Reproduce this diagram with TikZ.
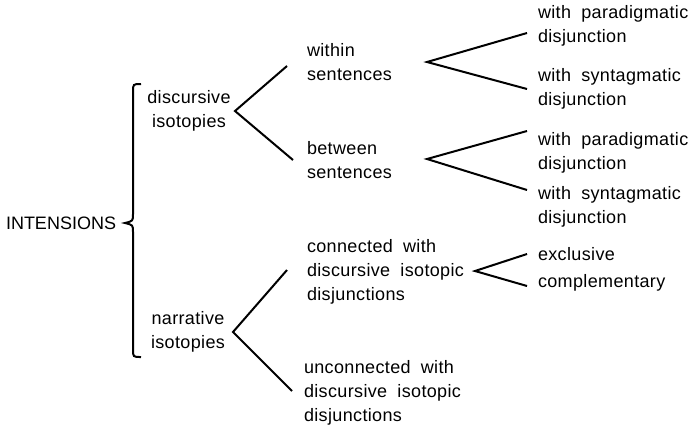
\documentclass[tikz,border=0pt]{standalone}
\usepackage{fontspec}
\setmainfont{Liberation Sans}[LetterSpace=2,WordSpace=1.9]
\usepackage{tikz}

\begin{document}
\begin{tikzpicture}[x=1pt,y=-1pt,line width=2pt,
  every node/.style={inner sep=0pt,font=\fontsize{18}{24}\selectfont},
  txt/.style={anchor=west,align=left}]
\useasboundingbox (0,0) rectangle (692,429);
\node (intensions) at (5,223) [anchor=west,font=\fontsize{18}{24}\selectfont\addfontfeatures{LetterSpace=0}] {INTENSIONS};
\draw (141,84) .. controls (133,84) .. (133,92) -- (133,214) .. controls (133,221) .. (125,223)
  .. controls (133,225) .. (133,232) -- (133,349) .. controls (133,357) .. (141,357);
\node (discursive) at (189,111) [align=center] {discursive\\isotopies};
\node (narrative) at (188,332) [align=center] {narrative\\isotopies};
\node (within) at (306,62) [txt] {within\\sentences};
\node (between) at (306,160) [txt] {between\\sentences};
\node (connected) at (306,272) [txt] {connected with\\discursive isotopic\\disjunctions};
\node (unconnected) at (303,393) [txt] {unconnected with\\discursive isotopic\\disjunctions};
\node (para1) at (537,26) [txt] {with paradigmatic\\disjunction};
\node (synt1) at (537,89) [txt] {with syntagmatic\\disjunction};
\node (para2) at (537,153) [txt] {with paradigmatic\\disjunction};
\node (synt2) at (537,207) [txt] {with syntagmatic\\disjunction};
\node (exclusive) at (537,254) [txt] {exclusive};
\node (complementary) at (537,283) [txt] {complementary};
\coordinate (discursiveV) at (235,111);
\coordinate (withinV) at (427,62);
\coordinate (betweenV) at (427,159);
\coordinate (narrativeV) at (233,332);
\coordinate (connectedV) at (475,271);
\draw (287,66) -- (discursiveV) -- (293,160);
\draw (287,270) -- (narrativeV) -- (292,391);
\draw (527,33) -- (withinV) -- (527,89);
\draw (527,131) -- (betweenV) -- (527,190);
\draw (527,254) -- (connectedV) -- (527,286);
\end{tikzpicture}
\end{document}
